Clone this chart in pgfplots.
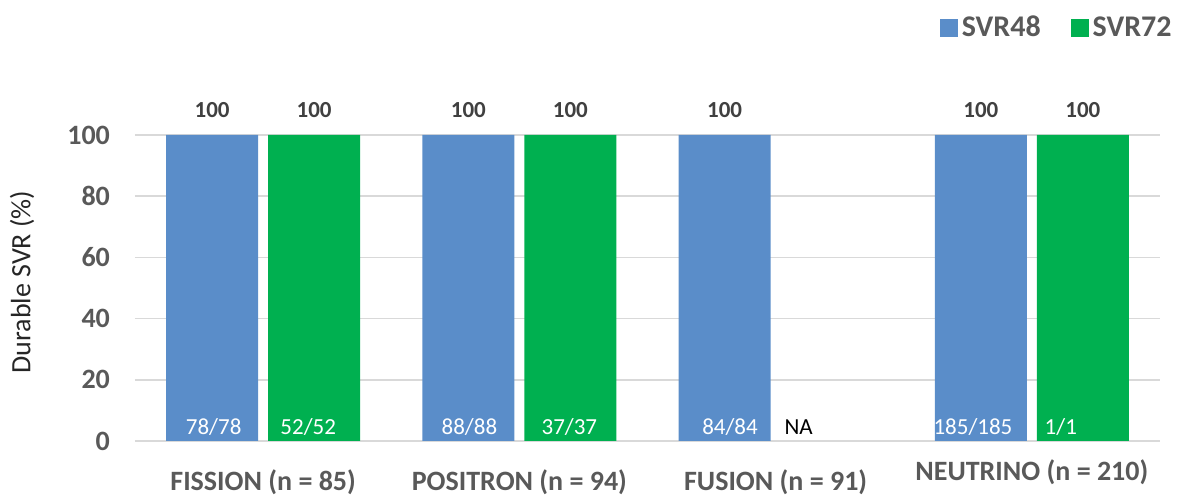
\documentclass[border=0pt]{standalone}
\usepackage{fontspec}
\setmainfont{Carlito}
\usepackage{pgfplots}
\pgfplotsset{compat=1.18}
\definecolor{svrblue}{HTML}{5A8DC9}
\definecolor{svrgreen}{HTML}{00B050}
\definecolor{txtgray}{HTML}{595959}
\definecolor{lblgray}{HTML}{404040}
\definecolor{gridgray}{HTML}{D9D9D9}

\begin{document}
\begin{tikzpicture}
\begin{axis}[
    scale only axis, width=512.5pt, height=153pt,
    xmin=-0.5, xmax=3.5, ymin=0, ymax=100,
    axis line style={draw=none},
    major tick length=0pt,
    ytick={0,20,...,100},
    ymajorgrids, grid style={gridgray, line width=0.8pt},
    xtick={0,1,2,3},
    xticklabels={FISSION (n = 85), POSITRON (n = 94), FUSION (n = 91), \raisebox{5pt}{NEUTRINO (n = 210)}},
    xticklabel style={font=\bfseries\fontsize{14}{16}\selectfont, text=txtgray, anchor=base, yshift=-25pt},
    yticklabel style={font=\bfseries\fontsize{14}{16}\selectfont, text=txtgray, xshift=-9pt},
    /pgf/number format/assume math mode=true,
    legend columns=2,
    legend style={draw=none, fill=none, font=\bfseries\fontsize{15}{17}\selectfont, text=txtgray,
        at={(rel axis cs:1,1)}, anchor=east, xshift=11pt, yshift=53.5pt,
        /tikz/every even column/.append style={column sep=13pt}},
    clip=false,
]
% SVR48
\addplot[ybar, bar width=46pt, bar shift=-25.5pt, fill=svrblue, draw=none,
    legend image code/.code={\fill[svrblue] (0pt,-4.5pt) rectangle (9pt,4.5pt);}]
    coordinates {(0,100)(1,100)(2,100)(3,100)};
\addlegendentry{SVR48}
% SVR72 (no data for fusion)
\addplot[ybar, bar width=46pt, bar shift=25.5pt, fill=svrgreen, draw=none,
    legend image code/.code={\fill[svrgreen] (0pt,-4.5pt) rectangle (9pt,4.5pt);}]
    coordinates {(0,100)(1,100)(3,100)};
\addlegendentry{SVR72}
% value labels above bars
\addplot[draw=none, mark=none, forget plot, nodes near coords,
    nodes near coords style={font=\bfseries\fontsize{11.5}{13}\selectfont, text=lblgray, anchor=base, yshift=8.5pt}]
    table {
x      y
-0.199 100
0.199  100
0.801  100
1.199  100
1.801  100
2.801  100
3.199  100
};
% counts inside bars
\addplot[draw=none, mark=none, forget plot, nodes near coords, point meta=explicit symbolic,
    nodes near coords style={font=\fontsize{11.5}{14}\selectfont, text=white, anchor=base, yshift=3pt}]
    table[meta=lab] {
x      y lab
-0.193 0 78/78
0.176  0 52/52
0.805  0 88/88
1.195  0 37/37
1.822  0 84/84
2.770  0 185/185
3.113  0 1/1
};
\addplot[draw=none, mark=none, forget plot, nodes near coords, point meta=explicit symbolic,
    nodes near coords style={font=\fontsize{11.5}{14}\selectfont, text=black, anchor=base, yshift=3pt}]
    table[meta=lab] {
x      y lab
2.090  0 NA
};
\end{axis}
\node[rotate=90, font=\fontsize{14}{16}\selectfont, text=black!85] at (-56.5pt,79.5pt) {Durable SVR (\%)};
\pgfresetboundingbox
\path (-67.5pt,-28pt) rectangle (524.5pt,220.5pt);
\end{tikzpicture}
\end{document}
